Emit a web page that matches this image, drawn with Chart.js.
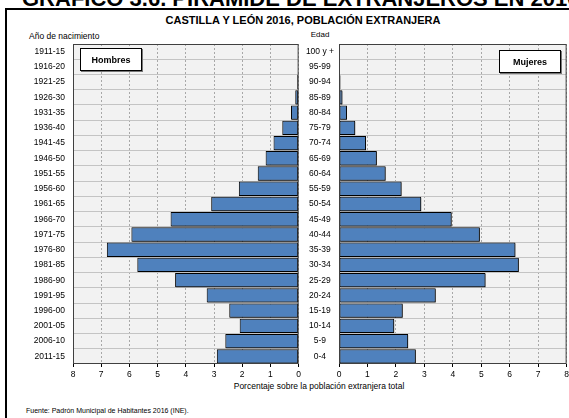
<!DOCTYPE html>
<html>
<head>
<meta charset="utf-8">
<script src="https://cdn.jsdelivr.net/npm/chart.js@4.4.1/dist/chart.umd.min.js"></script>
<style>
  body { margin: 0; width: 569px; height: 418px; overflow: hidden; background: #fff; position: relative;
         font-family: "Liberation Sans", Arial, sans-serif; color: #000; }
  .t { position: absolute; white-space: nowrap; line-height: 1; }
  .frame { position: absolute; left: 5px; top: 8px; width: 620px; height: 430px;
           border-left: 2px solid #000; border-top: 2px solid #000; }
  .legend { position: absolute; background: #fff; border: 1px solid #000; box-shadow: 1px 1px 0 #777;
            font-weight: bold; font-size: 9px; display: flex; align-items: center; justify-content: center; }
  canvas { position: absolute; top: 0; }
</style>
</head>
<body>
<div class="t" style="left:22px;top:-11.6px;font-size:22px;font-weight:bold;">GRÁFICO 3.6. PIRÁMIDE DE EXTRANJEROS EN 2016</div>
<div class="frame"></div>
<div class="t" style="left:303px;top:15.3px;font-size:11px;font-weight:bold;transform:translateX(-50%);">CASTILLA Y LEÓN 2016, POBLACIÓN EXTRANJERA</div>
<div class="t" style="left:29px;top:31.6px;font-size:8.5px;">Año de nacimiento</div>
<div class="t" style="left:320px;top:30.8px;font-size:8px;transform:translateX(-50%);">Edad</div>

<canvas id="leftChart" width="304" height="380" style="left:0"></canvas>
<canvas id="rightChart" width="272" height="380" style="left:300px"></canvas>

<div class="legend" style="left:80px;top:48px;width:60px;height:21px;">Hombres</div>
<div class="legend" style="left:499px;top:50px;width:60px;height:21px;">Mujeres</div>

<div class="t" style="left:319px;top:382px;font-size:8.5px;transform:translateX(-50%);">Porcentaje sobre la población extranjera total</div>
<div class="t" style="left:26px;top:407.4px;font-size:7px;">Fuente: Padrón Municipal de Habitantes 2016 (INE).</div>

<script>
// ── Data ───────────────────────────────────────────────────────────────
const birthYears = ['1911-15','1916-20','1921-25','1926-30','1931-35','1936-40','1941-45',
                    '1946-50','1951-55','1956-60','1961-65','1966-70','1971-75','1976-80',
                    '1981-85','1986-90','1991-95','1996-00','2001-05','2006-10','2011-15'];
const ageGroups  = ['100 y +','95-99','90-94','85-89','80-84','75-79','70-74',
                    '65-69','60-64','55-59','50-54','45-49','40-44','35-39',
                    '30-34','25-29','20-24','15-19','10-14','5-9','0-4'];
const hombres = [0, 0, 0.05, 0.12, 0.27, 0.58, 0.89, 1.17, 1.45, 2.12, 3.10,
                 4.54, 5.93, 6.80, 5.72, 4.38, 3.26, 2.46, 2.09, 2.60, 2.90];
const mujeres = [0, 0, 0.05, 0.12, 0.28, 0.57, 0.95, 1.33, 1.64, 2.20, 2.89,
                 3.96, 4.95, 6.20, 6.32, 5.15, 3.40, 2.24, 1.94, 2.43, 2.70];
const pctTicks = { min: 0, max: 8, step: 1 };

// ── Look ───────────────────────────────────────────────────────────────
const FONT = { family: '"Liberation Sans", Arial, sans-serif', size: 8.5 };
const BAR  = '#4f81bd';

const plotDeco = {
  id: 'plotDeco',
  beforeDraw(chart) {
    const { ctx, chartArea: a } = chart;
    ctx.save();
    ctx.fillStyle = '#f2f2f2';
    ctx.fillRect(a.left, a.top, a.right - a.left, a.bottom - a.top);
    ctx.restore();
  },
  beforeDatasetsDraw(chart) {
    const ctx = chart.ctx;
    ctx.save();
    ctx.shadowColor = 'rgba(0,0,0,0.55)';
    ctx.shadowOffsetX = 1;
    ctx.shadowOffsetY = 1;
    ctx.shadowBlur = 0;
  },
  afterDatasetsDraw(chart) { chart.ctx.restore(); },
  afterDraw(chart) {
    const { ctx, chartArea: a } = chart;
    ctx.save();
    ctx.strokeStyle = '#404040';
    ctx.lineWidth = 1;
    ctx.strokeRect(a.left + 0.5, a.top + 0.5, a.right - a.left - 1, a.bottom - a.top - 1);
    ctx.restore();
  }
};

function pyramidSide(canvasId, labels, values, opts) {
  return new Chart(document.getElementById(canvasId), {
    type: 'bar',
    data: {
      labels,
      datasets: [{
        data: values,
        backgroundColor: BAR,
        borderColor: '#000',
        borderWidth: 1,
        borderSkipped: false,
        categoryPercentage: 1,
        barPercentage: 0.94
      }]
    },
    options: {
      indexAxis: 'y',
      responsive: false,
      animation: false,
      devicePixelRatio: 1,
      layout: { padding: opts.padding },
      plugins: { legend: { display: false }, tooltip: { enabled: false } },
      scales: {
        x: {
          type: 'linear',
          min: pctTicks.min,
          max: pctTicks.max,
          reverse: opts.reverse,
          ticks: { stepSize: pctTicks.step, font: FONT, color: '#000', padding: 3, maxRotation: 0 },
          grid: { color: '#a8a8a8', tickLength: 3, tickColor: '#000' },
          border: { display: false, dash: [2, 2] },
          afterFit(s) { s.height = 16; }
        },
        y: {
          type: 'category',
          ticks: { font: FONT, color: '#000', padding: opts.labelPad, autoSkip: false,
                   crossAlign: opts.crossAlign },
          grid: { color: '#c4c4c4', drawTicks: false, offset: true },
          border: { display: false },
          afterFit(s) { s.width = opts.axisWidth; }
        }
      }
    },
    plugins: [plotDeco]
  });
}

// ── Charts ─────────────────────────────────────────────────────────────
pyramidSide('leftChart', birthYears, hombres, {
  reverse: true, padding: { top: 44, right: 3, left: 0, bottom: 0 },
  labelPad: 8, crossAlign: 'near', axisWidth: 73
});
pyramidSide('rightChart', ageGroups, mujeres, {
  reverse: false, padding: { top: 44, right: 4, left: 0, bottom: 0 },
  labelPad: 5, crossAlign: 'center', axisWidth: 39
});
</script>
</body>
</html>
